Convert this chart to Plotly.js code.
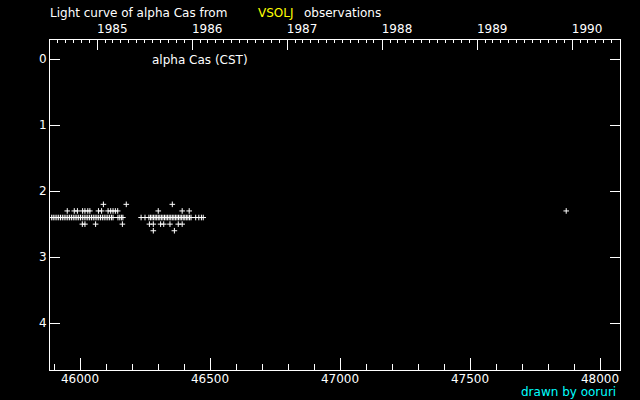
<!DOCTYPE html>
<html><head><meta charset="utf-8">
<script src="https://cdn.plot.ly/plotly-3.0.1.min.js"></script>
<style>html,body{margin:0;padding:0;background:#000;}</style>
</head><body><div id="chart" style="width:640px;height:400px;"></div>
<script>
// Julian Date - 2400000 of observations, grouped by visual magnitude
const magLevels = [2.2, 2.3, 2.4, 2.5, 2.6];
const jd22 = [46090, 46178, 46355];
const jd23 = [45951, 45978, 45990, 46010, 46019, 46030, 46038, 46071, 46083, 46108, 46118, 46127, 46136, 46145, 46301, 46393, 46420, 47870];
const jd24 = [45891, 45897, 45904, 45911, 45918, 45925, 45932, 45939, 45946, 45953, 45960, 45967, 45974, 45981, 45988, 45995, 46002, 46009, 46016, 46023, 46030, 46037, 46044, 46051, 46058, 46065, 46072, 46079, 46086, 46093, 46100, 46107, 46114, 46121, 46127, 46146, 46153, 46160, 46165, 46235, 46250, 46265, 46271, 46277, 46283, 46289, 46295, 46301, 46307, 46313, 46319, 46325, 46331, 46337, 46343, 46349, 46355, 46361, 46367, 46373, 46379, 46385, 46391, 46397, 46403, 46409, 46415, 46421, 46427, 46445, 46457, 46467, 46474];
const jd25 = [46009, 46019, 46060, 46163, 46267, 46282, 46310, 46322, 46346, 46378, 46393];
const jd26 = [46282, 46363];
const jdByLevel = [jd22, jd23, jd24, jd25, jd26];

const xRange = [45884.6, 48076.9];
const yRange = [4.71, -0.29];
const yTicks = [0, 1, 2, 3, 4];

function jdToDate(j) {
  return new Date((j - 40587.5) * 86400000).toISOString().replace('T', ' ').replace('Z', '');
}

const FONT = 'DejaVu Sans';
const traces = magLevels.map((m, i) => ({
  type: 'scatter', mode: 'markers',
  x: jdByLevel[i], y: jdByLevel[i].map(() => m),
  marker: {symbol: 'cross-thin', size: 4, line: {width: 1, color: '#ffffff'}, color: '#ffffff'},
  hoverinfo: 'skip', showlegend: false
}));

const layout = {
  width: 640, height: 400,
  paper_bgcolor: '#000000', plot_bgcolor: '#000000',
  margin: {l: 50, r: 20, t: 40, b: 30},
  showlegend: false,
  font: {family: FONT, size: 12, color: '#ffffff'},
  xaxis: {
    range: xRange, showgrid: false, zeroline: false,
    showline: true, linecolor: '#ffffff', linewidth: 1,
    ticks: 'inside', ticklen: 12, tickcolor: '#ffffff', tickwidth: 1,
    tick0: 46000, dtick: 500, tickformat: 'd',
    ticklabelstandoff: -2,
    minor: {dtick: 100, tick0: 46000, ticks: 'inside', ticklen: 6, tickcolor: '#ffffff', showgrid: false},
    tickfont: {family: FONT, size: 12, color: '#ffffff'}
  },
  xaxis2: {
    type: 'date', overlaying: 'x', side: 'top', anchor: 'y',
    range: [jdToDate(xRange[0]), jdToDate(xRange[1])],
    showgrid: false, zeroline: false,
    showline: true, linecolor: '#ffffff', linewidth: 1,
    ticks: 'inside', ticklen: 10, tickcolor: '#ffffff',
    tick0: '1985-01-01', dtick: 'M12', tickformat: '%Y',
    ticklabelshift: 15, ticklabelstandoff: 1,
    minor: {dtick: 'M1', ticks: 'inside', ticklen: 3, tickcolor: '#ffffff', showgrid: false},
    tickfont: {family: FONT, size: 12, color: '#ffffff'}
  },
  yaxis: {
    range: yRange, showgrid: false, zeroline: false,
    showline: true, linecolor: '#ffffff', linewidth: 1, mirror: 'ticks',
    ticks: 'inside', ticklen: 10, tickcolor: '#ffffff',
    tickvals: yTicks, ticktext: yTicks.map(String),
    tickfont: {family: FONT, size: 12, color: '#ffffff'}
  },
  annotations: [
    {xref: 'paper', yref: 'paper', x: -0.003, y: 1.083, xanchor: 'left', yanchor: 'middle', showarrow: false,
     text: 'Light curve of alpha Cas from', font: {family: FONT, size: 12, color: '#ffffff'}},
    {xref: 'paper', yref: 'paper', x: 0.3615, y: 1.083, xanchor: 'left', yanchor: 'middle', showarrow: false,
     text: 'VSOLJ', font: {family: FONT, size: 12, color: '#ffff00'}},
    {xref: 'paper', yref: 'paper', x: 0.4425, y: 1.083, xanchor: 'left', yanchor: 'middle', showarrow: false,
     text: 'observations', font: {family: FONT, size: 12, color: '#ffffff'}},
    {xref: 'paper', yref: 'paper', x: 0.1755, y: 0.939, xanchor: 'left', yanchor: 'middle', showarrow: false,
     text: 'alpha Cas (CST)', font: {family: FONT, size: 12, color: '#ffffff'}},
    {xref: 'paper', yref: 'paper', x: 0.9965, y: -0.066, xanchor: 'right', yanchor: 'middle', showarrow: false,
     text: 'drawn by ooruri', font: {family: FONT, size: 12, color: '#00ffff'}}
  ]
};

// helper trace so the top (date) axis is drawn
traces.push({type: 'scatter', mode: 'markers', xaxis: 'x2', yaxis: 'y',
  x: [jdToDate(xRange[0]), jdToDate(xRange[1])], y: [yRange[0], yRange[0]],
  marker: {opacity: 0}, hoverinfo: 'skip', showlegend: false});

Plotly.newPlot('chart', traces, layout, {staticPlot: true, displayModeBar: false});
</script></body></html>
